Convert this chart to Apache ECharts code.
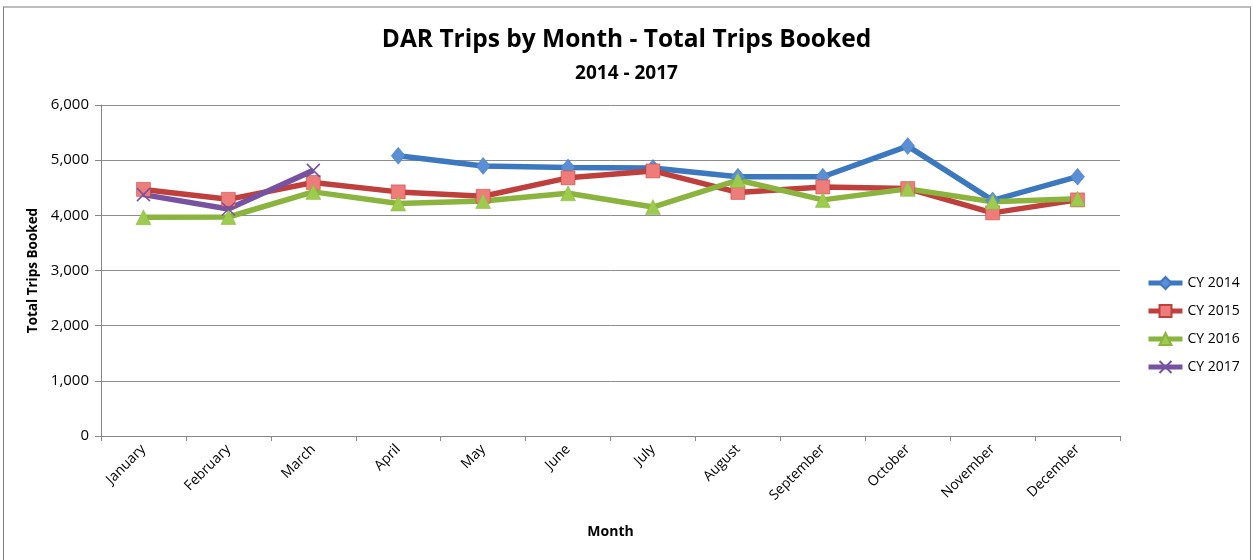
<!DOCTYPE html>
<html>
<head>
<meta charset="utf-8">
<script src="https://cdn.jsdelivr.net/npm/echarts@6/dist/echarts.min.js"></script>
<style>
  html, body { margin: 0; padding: 0; background: #fff; }
  #chart { position: absolute; left: 0; top: 0; width: 1253px; height: 560px; }
  #frame {
    position: absolute; left: 3px; top: 6px; width: 1246px; height: 560px;
    border-top: 2px solid #bdbdbd; border-left: 1px solid #7f7f7f; border-right: 1px solid #7f7f7f;
    pointer-events: none;
  }
</style>
</head>
<body>
<div id="chart"></div>
<div id="frame"></div>
<script>
var months = ['January', 'February', 'March', 'April', 'May', 'June', 'July',
    'August', 'September', 'October', 'November', 'December'];
// null = no data that month
var cy2014 = [null, null, null, 5080, 4895, 4865, 4860, 4700, 4700, 5255, 4270, 4700];
var cy2015 = [4470, 4290, 4595, 4425, 4345, 4680, 4805, 4415, 4515, 4485, 4045, 4280];
var cy2016 = [3965, 3970, 4425, 4215, 4260, 4400, 4150, 4640, 4280, 4480, 4245, 4300];
var cy2017 = [4375, 4115, 4815, null, null, null, null, null, null, null, null, null];
var yTicks = [0, 1000, 2000, 3000, 4000, 5000, 6000];

var font = '"Open Sans", "DejaVu Sans", sans-serif';
var xMark = 'path://M0,0L10,10M10,0L0,10';

function lineSeries(name, data, color, symbol, size, fill) {
    return {
        name: name,
        type: 'line',
        data: data,
        symbol: symbol,
        symbolSize: size,
        connectNulls: false,
        lineStyle: { width: 5.5, color: color },
        itemStyle: {
            color: fill,
            borderColor: color,
            borderWidth: symbol === xMark ? 1.5 : 0.5
        },
        emphasis: { disabled: true },
        z: 2
    };
}

var myChart = echarts.init(document.getElementById('chart'));
myChart.setOption({
    animation: false,
    backgroundColor: '#fff',
    textStyle: { fontFamily: font },
    title: [
        {
            text: 'DAR Trips by Month - Total Trips Booked',
            left: 'center',
            top: 23,
            textStyle: { fontSize: 24.5, fontWeight: 'bold', color: '#000', fontFamily: font }
        },
        {
            text: '2014 - 2017',
            left: 'center',
            top: 59,
            textStyle: { fontSize: 19, fontWeight: 'bold', color: '#000', fontFamily: font }
        }
    ],
    legend: {
        orient: 'vertical',
        left: 1141,
        top: 271,
        itemGap: 14,
        itemWidth: 34,
        itemHeight: 15,
        lineStyle: { width: 5 },
        textStyle: { fontSize: 14, color: '#000', fontFamily: font },
        data: ['CY 2014', 'CY 2015', 'CY 2016', 'CY 2017']
    },
    grid: { left: 101, right: 133, top: 105, bottom: 124, containLabel: false },
    xAxis: {
        type: 'category',
        data: months,
        boundaryGap: true,
        name: 'Month',
        nameLocation: 'middle',
        nameGap: 89,
        nameTextStyle: { fontSize: 14, fontWeight: 'bold', color: '#000', fontFamily: font },
        axisLine: { lineStyle: { color: '#868686', width: 1 } },
        axisTick: { show: true, alignWithLabel: false, length: 5, lineStyle: { color: '#868686' } },
        axisLabel: { rotate: 45, margin: 11, fontSize: 14, color: '#000', fontFamily: font, interval: 0 },
        splitLine: { show: false }
    },
    yAxis: {
        type: 'value',
        min: yTicks[0],
        max: yTicks[yTicks.length - 1],
        interval: 1000,
        name: 'Total Trips Booked',
        nameLocation: 'middle',
        nameGap: 57,
        nameRotate: 90,
        nameTextStyle: { fontSize: 13.5, fontWeight: 'bold', color: '#000', fontFamily: font },
        axisLine: { show: true, lineStyle: { color: '#868686', width: 1 } },
        axisTick: { show: true, length: 6, lineStyle: { color: '#868686' } },
        axisLabel: {
            margin: 12, fontSize: 15, color: '#000', fontFamily: font,
            formatter: function (v) { return v.toLocaleString('en-US'); }
        },
        splitLine: { lineStyle: { color: '#8c8c8c', width: 1 } }
    },
    series: [
        lineSeries('CY 2014', cy2014, '#3b78bf', 'diamond', [14, 17], '#5a8fd5'),
        lineSeries('CY 2015', cy2015, '#be3f3b', 'rect', 14, '#ee7c7a'),
        lineSeries('CY 2016', cy2016, '#8ab43e', 'triangle', 15, '#9ccb4d'),
        lineSeries('CY 2017', cy2017, '#7652a0', xMark, 13, 'rgba(0,0,0,0)')
    ]
});
</script>
</body>
</html>
